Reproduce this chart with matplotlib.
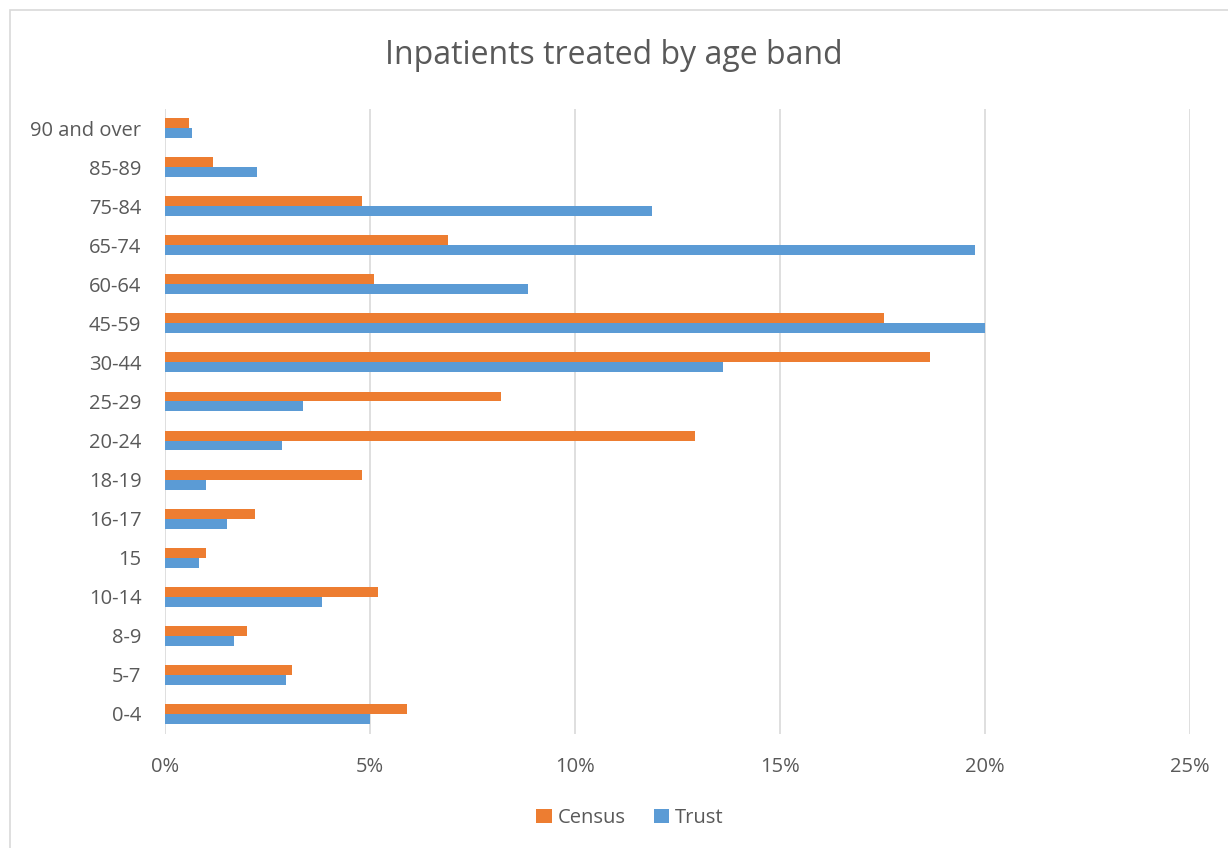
import matplotlib.pyplot as plt
import numpy as np
from matplotlib.patches import Rectangle
from matplotlib.ticker import FuncFormatter

# Age bands listed bottom to top, as in the chart
bands = ["0-4", "5-7", "8-9", "10-14", "15", "16-17", "18-19", "20-24",
         "25-29", "30-44", "45-59", "60-64", "65-74", "75-84", "85-89", "90 and over"]
census = [5.9, 3.09, 1.99, 5.19, 0.99, 2.19, 4.8, 12.92,
          8.2, 18.65, 17.54, 5.1, 6.91, 4.8, 1.18, 0.59]
trust = [5.0, 2.96, 1.68, 3.83, 0.84, 1.52, 0.99, 2.85,
         3.37, 13.61, 20.0, 8.86, 19.76, 11.89, 2.24, 0.65]

plt.rcParams['font.family'] = ['Open Sans', 'DejaVu Sans']
txt = "#595959"

fig = plt.figure(figsize=(12.28, 8.48), dpi=100)
ax = fig.add_axes([165 / 1228, 1 - 733.5 / 848, (1190 - 165) / 1228, (733.5 - 108.5) / 848])

# outer chart border
fig.patches.append(Rectangle((10 / 1228, -0.01), 1.02, 1 - 10 / 848 + 0.01,
                             transform=fig.transFigure, fill=False,
                             edgecolor="#d9d9d9", linewidth=1.2))

y = np.arange(len(bands))
h = 0.255
ax.barh(y + h / 2, census, height=h, color="#ED7D31", label="Census", zorder=3)
ax.barh(y - h / 2, trust, height=h, color="#5B9BD5", label="Trust", zorder=3)

ax.set_xlim(0, 25)
ax.set_ylim(-0.5, len(bands) - 0.5)
ax.set_xticks([0, 5, 10, 15, 20, 25])
ax.xaxis.set_major_formatter(FuncFormatter(lambda v, p: f"{v:.0f}%"))
ax.set_yticks(y)
ax.set_yticklabels(bands)
ax.grid(axis="x", color="#d9d9d9", linewidth=1.2, zorder=0)
for s in ax.spines.values():
    s.set_visible(False)
ax.tick_params(length=0, labelsize=14.5, labelcolor=txt)
ax.tick_params(axis="x", pad=17)
ax.tick_params(axis="y", pad=17)

fig.text(0.5, 1 - 55 / 848, "Inpatients treated by age band", ha="center", va="center",
         fontsize=23, color=txt)

ax.legend(loc="center", ncol=2, frameon=False, fontsize=14.5, labelcolor=txt,
          handlelength=0.75, handleheight=0.75, handletextpad=0.3, columnspacing=1.4,
          bbox_to_anchor=(630 / 1228, 1 - 818 / 848), bbox_transform=fig.transFigure)

fig.savefig("out.png", dpi=100)
